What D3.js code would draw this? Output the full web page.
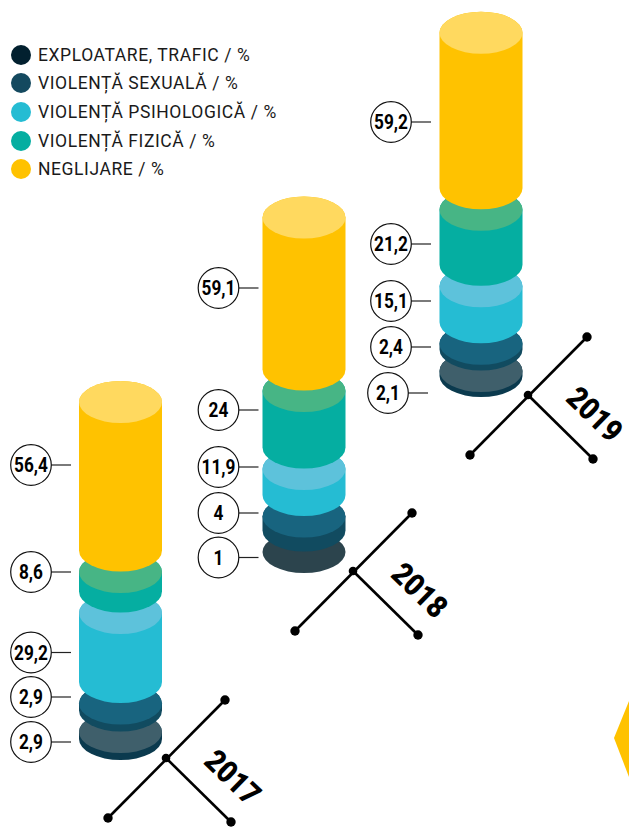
<!DOCTYPE html>
<html><head><meta charset="utf-8">
<style>html,body{margin:0;background:#fff}svg{display:block}text{font-family:"Roboto",sans-serif}</style>
<script src="https://cdnjs.cloudflare.com/ajax/libs/d3/7.8.5/d3.min.js"></script>
</head><body><svg id="c" width="629" height="827"></svg>
<script>
const years=["2017","2018","2019"];
const categories=["EXPLOATARE, TRAFIC","VIOLENȚĂ SEXUALĂ","VIOLENȚĂ PSIHOLOGICĂ","VIOLENȚĂ FIZICĂ","NEGLIJARE"];
const exploatare=[2.9,1,2.1];
const sexuala=[2.9,4,2.4];
const psihologica=[29.2,11.9,15.1];
const fizica=[8.6,24,21.2];
const neglijare=[56.4,59.1,59.2];
const series=[exploatare,sexuala,psihologica,fizica,neglijare];
const legendColors=["#02202f","#14495f","#25bcd3","#05aea1","#ffc200"];
const sideColors=["#0b3a4e","#114b60","#25bcd3","#05aea1","#ffc200"];
const faceColors=["#3f5f6b","#18647f","#5dc2db","#47b585","#ffd95f"];
const flatFace="#2c444d";
// layout
const xScale=d3.scaleOrdinal().domain(years).range([120.5,304,481]);
const baseScale=d3.scaleOrdinal().domain(years).range([739,552,376]);
const circleX=d3.scaleOrdinal().domain(years).range([31,218.5,391]);
const crossX=d3.scaleOrdinal().domain(years).range([166,353,528]);
const crossY=d3.scaleOrdinal().domain(years).range([758,571,395]);
const hScale=d3.scaleLinear()
  .domain([1,2.1,2.9,4,8.6,11.9,15.1,21.2,24,29.2,56.4,59.1,59.2])
  .range([0,5,7,14,19.5,26,36,55,56.5,69,148.5,152,155.5]);
const RX=41.5,RY=21,GAP=21.5;
const labelY={"2017":[742,697,652.5,572,465],"2018":[557.5,513,467,410,288],"2019":[393,347,301,244,122]};
const fmt=v=>String(v).replace(".",",");

const svg=d3.select("#c");
// diamond at the right edge
svg.append("path").attr("d",d3.line()([[614,738],[629,701],[640,701],[640,777],[629,777]])).attr("fill","#ffc200");

// legend
const legendY=d3.scaleOrdinal().domain(categories).range([55,83,112,141,169]);
const lg=svg.append("g").selectAll("g").data(categories).join("g").attr("transform",d=>`translate(0,${legendY(d)})`);
lg.append("circle").attr("cx",21).attr("r",10).attr("fill",(d,i)=>legendColors[i]);
lg.append("text").attr("x",38).attr("y",6).attr("font-size",17.5).attr("letter-spacing",0.58).attr("fill","#1a1a1a").text(d=>d+" / %");

function cyl(cx,top,bot){
  return `M${cx-RX},${top}V${bot}A${RX},${RY} 0 0 0 ${cx+RX},${bot}V${top}A${RX},${RY} 0 0 0 ${cx-RX},${top}Z`;
}
years.forEach((y,yi)=>{
  const cx=xScale(y);
  let bot=baseScale(y);
  const g=svg.append("g");
  series.forEach((s,si)=>{
    const v=s[yi], h=hScale(v), top=bot-h;
    const flat=h<1;
    if(!flat) g.append("path").attr("d",cyl(cx,top,bot)).attr("fill",sideColors[si]);
    g.append("ellipse").attr("cx",cx).attr("cy",top).attr("rx",RX).attr("ry",RY)
      .attr("fill",flat?flatFace:faceColors[si]);
    bot=top-GAP;
  });
  // value bubbles
  series.forEach((s,si)=>{
    const ly=labelY[y][si];
    const nudge=(y==="2019"&&si===0)?-3:0;
    const c=circleX(y)+nudge;
    const b=svg.append("g");
    b.append("line").attr("x1",c+20).attr("x2",c+40).attr("y1",ly).attr("y2",ly).attr("stroke","#222").attr("stroke-width",1.2);
    b.append("circle").attr("cx",c).attr("cy",ly).attr("r",20.3).attr("fill","#fff").attr("stroke","#111").attr("stroke-width",1.2);
    b.append("text").attr("x",c).attr("y",ly+7.5).attr("text-anchor","middle").attr("font-size",21).attr("font-weight",700)
      .attr("transform",`translate(${c},0) scale(.82,1) translate(${-c},0)`).attr("fill","#000").text(fmt(s[yi]));
  });
  // axis cross
  const X=crossX(y),Y=crossY(y);
  const k=svg.append("g");
  const ends=[[-58,60],[59,-58],[65,64]];
  k.append("line").attr("x1",X+ends[0][0]).attr("y1",Y+ends[0][1]).attr("x2",X+ends[1][0]).attr("y2",Y+ends[1][1]).attr("stroke","#000").attr("stroke-width",2.6);
  k.append("line").attr("x1",X).attr("y1",Y).attr("x2",X+ends[2][0]).attr("y2",Y+ends[2][1]).attr("stroke","#000").attr("stroke-width",2.6);
  ends.forEach(e=>k.append("circle").attr("cx",X+e[0]).attr("cy",Y+e[1]).attr("r",4.7).attr("fill","#000"));
  k.append("circle").attr("cx",X).attr("cy",Y).attr("r",4.3).attr("fill","#000");
  k.append("text").attr("transform",`translate(${X+67},${Y+19}) rotate(44) scale(.88,1)`).attr("y",11).attr("text-anchor","middle")
    .attr("font-size",31).attr("font-weight",900).attr("fill","#000").text(y);
});
</script></body></html>
